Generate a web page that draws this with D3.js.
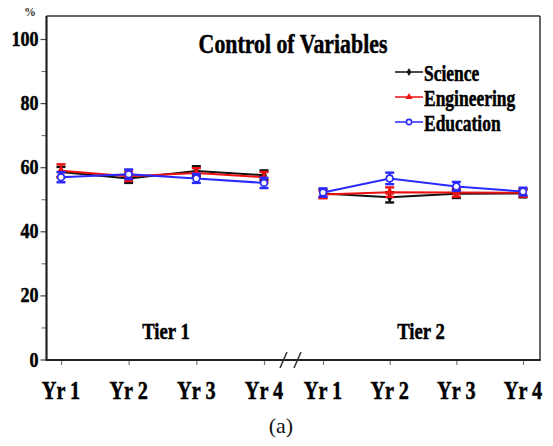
<!DOCTYPE html>
<html>
<head>
<meta charset="utf-8">
<script src="https://cdn.jsdelivr.net/npm/d3@7/dist/d3.min.js"></script>
<style>
  html, body { margin: 0; padding: 0; background: #fff; }
  svg { display: block; }
</style>
</head>
<body>
<svg id="chart" width="553" height="446"></svg>
<script>
// ---------- data ----------
const years = ["Yr 1", "Yr 2", "Yr 3", "Yr 4"];
const tiers = ["Tier 1", "Tier 2"];
const seriesNames = ["Science", "Engineering", "Education"];
const seriesColors = ["#111111", "#ee1111", "#2a2aff"];

// Tier 1 values (%)
const scienceT1 = [58.5, 56.5, 58.8, 57.5];
const engineeringT1 = [58.9, 57.2, 58.2, 56.9];
const educationT1 = [56.9, 57.8, 56.5, 55.1];
// Tier 2 values (%)
const scienceT2 = [51.8, 50.6, 51.7, 51.8];
const engineeringT2 = [51.5, 52.2, 52.1, 52.0];
const educationT2 = [52.1, 56.5, 54.0, 52.4];
// error bar half-lengths
const scienceErr = [1.6, 1.4, 1.5, 1.5, 1.2, 1.6, 1.3, 1.2];
const engineeringErr = [2.0, 1.5, 1.5, 1.6, 1.2, 1.5, 1.3, 1.2];
const educationErr = [1.6, 1.5, 1.4, 1.6, 1.3, 1.8, 1.4, 1.2];

const yMajorTicks = [0, 20, 40, 60, 80, 100];
const yMinorTicks = [10, 30, 50, 70, 90];

const chartTitle = "Control of Variables";
const yUnit = "%";
const caption = "(a)";

// ---------- layout ----------
const FONT = "'Liberation Serif', 'DejaVu Serif', 'Times New Roman', serif";
const svg = d3.select("#chart");
const plotL = 46.5, plotR = 540, plotT = 16, plotB = 360;
const y = d3.scaleLinear().domain([0, 100]).range([359.5, 39]);
const x1 = d3.scalePoint().domain(years).range([61, 264]);
const x2 = d3.scalePoint().domain(years).range([323, 523]);
const xScales = [x1, x2];
const SQ = 0.78; // horizontal squeeze of the serif lettering

function squeezedText(g, str, x, yy, size, anchor, weight, sq) {
  const s = sq || SQ;
  const t = g.append("g").attr("transform", `translate(${x},${yy}) scale(${s},1)`)
    .append("text")
    .attr("x", 0).attr("y", 0)
    .attr("text-anchor", anchor)
    .attr("font-family", FONT)
    .attr("font-size", size)
    .attr("font-weight", weight || "bold")
    .attr("fill", "#000")
    .attr("stroke", "#000")
    .attr("stroke-width", 0.5)
    .text(str);
  return t;
}

// frame
svg.append("line").attr("x1", plotL).attr("x2", plotR).attr("y1", plotT).attr("y2", plotT)
  .attr("stroke", "#333").attr("stroke-width", 1.5);
svg.append("line").attr("x1", plotR).attr("x2", plotR).attr("y1", plotT).attr("y2", plotB)
  .attr("stroke", "#333").attr("stroke-width", 1.5);

// y axis
const yAxisG = svg.append("g").attr("transform", `translate(${plotL},0)`);
yAxisG.call(d3.axisLeft(y).tickValues(yMajorTicks).tickSize(6).tickFormat(""));
yAxisG.select(".domain").remove();
yAxisG.selectAll(".tick line").attr("stroke", "#444").attr("stroke-width", 1.2);
const yMinorG = svg.append("g").attr("transform", `translate(${plotL},0)`);
yMinorG.call(d3.axisLeft(y).tickValues(yMinorTicks).tickSize(5).tickFormat(""));
yMinorG.select(".domain").remove();
yMinorG.selectAll(".tick line").attr("stroke", "#666").attr("stroke-width", 1);
yMajorTicks.forEach(v => {
  squeezedText(svg, String(v), 38.5, y(v) + 7, 21, "end", "bold", 0.86);
});
svg.append("line").attr("x1", plotL).attr("x2", plotL).attr("y1", plotT).attr("y2", plotB)
  .attr("stroke", "#222").attr("stroke-width", 2.2);
svg.append("text").attr("x", 30).attr("y", 16).attr("text-anchor", "middle")
  .attr("font-family", FONT)
  .attr("font-size", 12).attr("font-weight", "bold").attr("fill", "#333").text(yUnit);

// x axes
xScales.forEach(xs => {
  const g = svg.append("g").attr("transform", `translate(0,${plotB})`);
  g.call(d3.axisBottom(xs).tickSize(5).tickFormat(""));
  g.select(".domain").remove();
  g.selectAll(".tick line").attr("stroke", "#777").attr("stroke-width", 1.2);
  years.forEach(yr => {
    squeezedText(svg, yr, xs(yr), 399, 26, "middle", "bold");
  });
});
svg.append("line").attr("x1", plotL - 1).attr("x2", plotR + 0.75).attr("y1", plotB).attr("y2", plotB)
  .attr("stroke", "#222").attr("stroke-width", 2.2);

// axis break marks
[[280, 368, 287, 352], [294, 368, 301, 352]].forEach(d => {
  svg.append("line").attr("x1", d[0]).attr("y1", d[1]).attr("x2", d[2]).attr("y2", d[3])
    .attr("stroke", "#333").attr("stroke-width", 1.5);
});

// tier labels
squeezedText(svg, tiers[0], 166, 339, 24, "middle", "bold");
squeezedText(svg, tiers[1], 421, 339, 24, "middle", "bold");

// title
squeezedText(svg, chartTitle, 293, 53, 28, "middle", "bold");

// caption
svg.append("text").attr("x", 281).attr("y", 433).attr("text-anchor", "middle")
  .attr("font-family", FONT)
  .attr("font-size", 22).attr("fill", "#111").text(caption);

// ---------- series ----------
const series = [
  { name: seriesNames[0], color: seriesColors[0], t1: scienceT1, t2: scienceT2, err: scienceErr, marker: "diamond" },
  { name: seriesNames[1], color: seriesColors[1], t1: engineeringT1, t2: engineeringT2, err: engineeringErr, marker: "triangle" },
  { name: seriesNames[2], color: seriesColors[2], t1: educationT1, t2: educationT2, err: educationErr, marker: "circle" }
];

function drawMarker(g, kind, cx, cy, color, size) {
  const s = size || 1;
  if (kind === "circle") {
    g.append("circle").attr("cx", cx).attr("cy", cy).attr("r", 3.3 * s)
      .attr("fill", "#fff").attr("stroke", color).attr("stroke-width", 1.6);
  } else if (kind === "triangle") {
    g.append("path").attr("d", d3.symbol().type(d3.symbolTriangle).size(34 * s * s)())
      .attr("transform", `translate(${cx},${cy})`).attr("fill", color);
  } else {
    g.append("path").attr("d", d3.symbol().type(d3.symbolDiamond).size(30 * s * s)())
      .attr("transform", `translate(${cx},${cy})`).attr("fill", color);
  }
}

const line = d3.line().x(d => d[0]).y(d => d[1]);
series.forEach(s => {
  const g = svg.append("g");
  [s.t1, s.t2].forEach((vals, ti) => {
    const xs = xScales[ti];
    const pts = vals.map((v, i) => [xs(years[i]), y(v)]);
    g.append("path").attr("d", line(pts)).attr("fill", "none")
      .attr("stroke", s.color).attr("stroke-width", 2);
    vals.forEach((v, i) => {
      const e = s.err[ti * 4 + i];
      const cx = xs(years[i]);
      g.append("line").attr("x1", cx).attr("x2", cx).attr("y1", y(v - e)).attr("y2", y(v + e))
        .attr("stroke", s.color).attr("stroke-width", 2.2);
      [v - e, v + e].forEach(c => {
        g.append("line").attr("x1", cx - 4.5).attr("x2", cx + 4.5).attr("y1", y(c)).attr("y2", y(c))
          .attr("stroke", s.color).attr("stroke-width", 2.4);
      });
      drawMarker(g, s.marker, cx, y(v), s.color);
    });
  });
});

// ---------- legend ----------
const legendBaselines = [81, 106, 131];
series.forEach((s, i) => {
  const ly = legendBaselines[i] - 9;
  svg.append("line").attr("x1", 395).attr("x2", 423).attr("y1", ly).attr("y2", ly)
    .attr("stroke", s.color).attr("stroke-width", 1.5);
  drawMarker(svg, s.marker, 409, ly, s.color, 0.8);
  squeezedText(svg, s.name, 424, legendBaselines[i], 23, "start", "bold", 0.76);
});
</script>
</body>
</html>
